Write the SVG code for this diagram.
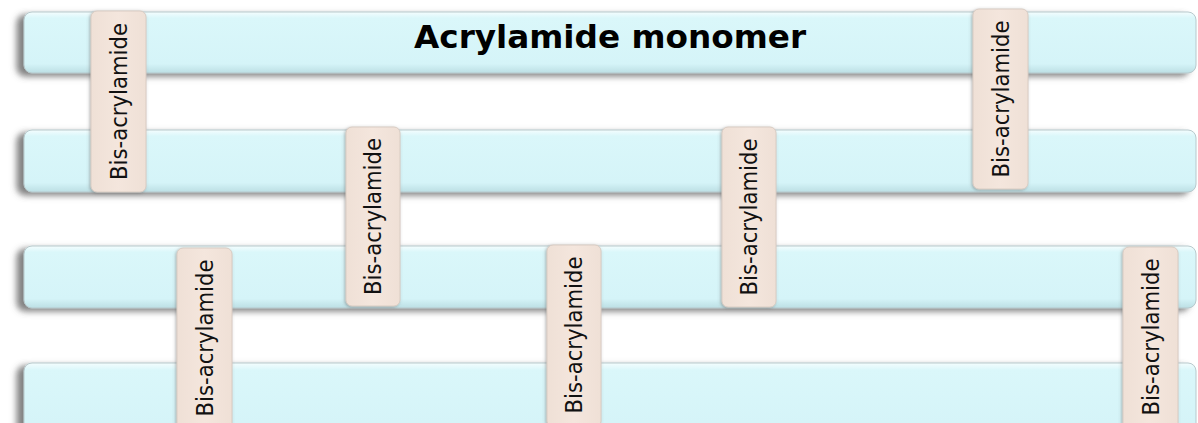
<svg xmlns="http://www.w3.org/2000/svg" width="1198" height="423" viewBox="0 0 1198 423">
<defs>
<linearGradient id="barGrad" x1="0" y1="0" x2="0" y2="1">
<stop offset="0" stop-color="#f4fdfe"/>
<stop offset="0.1" stop-color="#daf7fa"/>
<stop offset="0.85" stop-color="#d5f4f8"/>
<stop offset="1" stop-color="#bcdfe4"/>
</linearGradient>
<linearGradient id="boxGrad" x1="0" y1="0" x2="1" y2="0">
<stop offset="0" stop-color="#efe0d6"/>
<stop offset="0.5" stop-color="#f4e6dd"/>
<stop offset="1" stop-color="#efe0d6"/>
</linearGradient>
<filter id="barShadow" x="-5%" y="-30%" width="110%" height="160%">
<feDropShadow dx="-7" dy="3" stdDeviation="3" flood-color="#5a5a5a" flood-opacity="0.75"/>
</filter>
<filter id="boxShadow" x="-30%" y="-10%" width="160%" height="120%">
<feDropShadow dx="-1" dy="1" stdDeviation="1.5" flood-color="#6a6a6a" flood-opacity="0.5"/>
</filter>
</defs>
<style>
.bar{fill:url(#barGrad);stroke:#b7c9cc;stroke-width:1;filter:url(#barShadow)}
.box{fill:url(#boxGrad);stroke:#d9ccc3;stroke-width:1;filter:url(#boxShadow)}
.lbl{font-family:"DejaVu Sans","Liberation Sans",sans-serif;font-size:23px;fill:#111;text-anchor:middle}
.title{font-family:"DejaVu Sans","Liberation Sans",sans-serif;font-size:32px;font-weight:bold;fill:#000;text-anchor:middle}
</style>
<rect width="1198" height="423" fill="#ffffff"/>
<g id="bars">
<g id="bar1"><rect class="bar" x="24" y="12" width="1172" height="61" rx="8"/>
<text class="title" x="610" y="48" textLength="392" lengthAdjust="spacingAndGlyphs">Acrylamide monomer</text></g>
<g id="bar2"><rect class="bar" x="24" y="130" width="1172" height="62" rx="8"/></g>
<g id="bar3"><rect class="bar" x="24" y="246" width="1172" height="62" rx="8"/></g>
<g id="bar4"><rect class="bar" x="24" y="363" width="1172" height="70" rx="8"/></g>
</g>
<g id="crosslinks">
<g id="bis1"><rect class="box" x="91" y="11" width="55" height="181" rx="6"/>
<text class="lbl" transform="translate(126.5,101.5) rotate(-90)" textLength="157" lengthAdjust="spacingAndGlyphs">Bis-acrylamide</text></g>
<g id="bis2"><rect class="box" x="973" y="9" width="55" height="180" rx="6"/>
<text class="lbl" transform="translate(1008.5,99) rotate(-90)" textLength="157" lengthAdjust="spacingAndGlyphs">Bis-acrylamide</text></g>
<g id="bis3"><rect class="box" x="177" y="248" width="55" height="182" rx="6"/>
<text class="lbl" transform="translate(212.5,338) rotate(-90)" textLength="157" lengthAdjust="spacingAndGlyphs">Bis-acrylamide</text></g>
<g id="bis4"><rect class="box" x="1123" y="247" width="55" height="182" rx="6"/>
<text class="lbl" transform="translate(1158.5,337) rotate(-90)" textLength="157" lengthAdjust="spacingAndGlyphs">Bis-acrylamide</text></g>
<g id="bis5"><rect class="box" x="346" y="127" width="54" height="179" rx="6"/>
<text class="lbl" transform="translate(381,216.5) rotate(-90)" textLength="157" lengthAdjust="spacingAndGlyphs">Bis-acrylamide</text></g>
<g id="bis6"><rect class="box" x="547" y="245" width="54" height="182" rx="6"/>
<text class="lbl" transform="translate(582,335) rotate(-90)" textLength="157" lengthAdjust="spacingAndGlyphs">Bis-acrylamide</text></g>
<g id="bis7"><rect class="box" x="722" y="127" width="54" height="180" rx="6"/>
<text class="lbl" transform="translate(757,217) rotate(-90)" textLength="157" lengthAdjust="spacingAndGlyphs">Bis-acrylamide</text></g>
</g>
</svg>
